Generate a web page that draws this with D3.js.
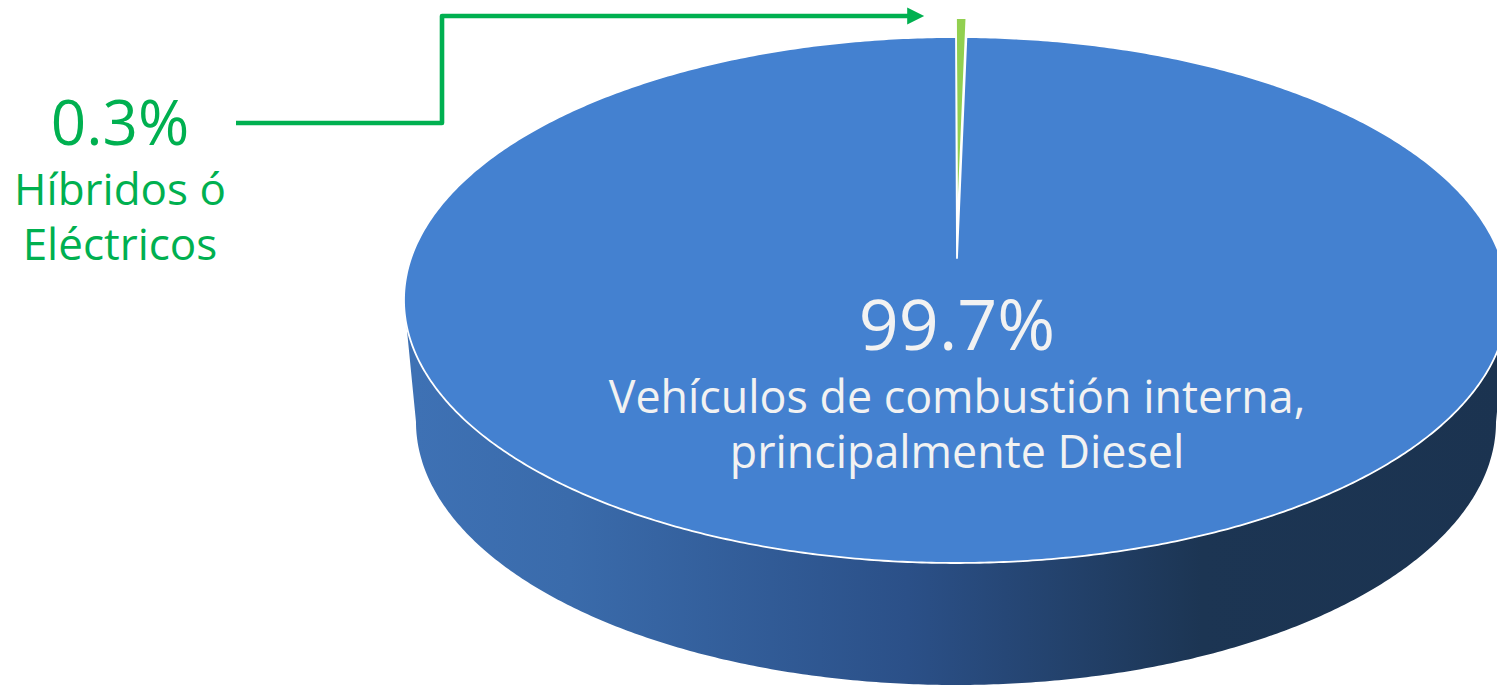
<!DOCTYPE html>
<html>
<head>
<meta charset="utf-8">
<script src="https://cdn.jsdelivr.net/npm/d3@7"></script>
<style>
  html, body { margin: 0; padding: 0; background: #ffffff; overflow: hidden; }
  svg { display: block; }
</style>
</head>
<body>
<svg id="chart" width="1497" height="687"></svg>
<script>
// ---- data ----
const categories = ["Híbridos ó Eléctricos", "Vehículos de combustión interna, principalmente Diesel"];
const labelLines = [["Híbridos ó", "Eléctricos"], ["Vehículos de combustión interna,", "principalmente Diesel"]];
const values = [0.3, 99.7];
const colors = ["#92d050", "#4481d0"];

// ---- layout ----
const W = 1497, H = 687;
const svg = d3.select("#chart");
const cx = 956, cy = 300, rx = 552, ry = 263;     // top ellipse
const apex = {x: 957, y: 258};                     // perspective centre of the top face
const depth = 122, rxB = 540, ryB = 263;          // bottom ellipse
const explode = [19, 0];

const pie = d3.pie().sort(null).value(d => d).startAngle(0).endAngle(2 * Math.PI);
const arcs = pie(values);
const total = d3.sum(values);
const fmt = d3.format(".1f");

function topPt(a) { return [cx + rx * Math.sin(a), cy - ry * Math.cos(a)]; }
function botPt(a) { return [cx + rxB * Math.sin(a), cy + depth - ryB * Math.cos(a)]; }
function samples(a0, a1) {
  const n = Math.max(2, Math.ceil(Math.abs(a1 - a0) / (Math.PI / 360)));
  return d3.range(n + 1).map(i => a0 + (a1 - a0) * i / n);
}

// gradient for the wall
const defs = svg.append("defs");
const grad = defs.append("linearGradient").attr("id", "wall")
  .attr("gradientUnits", "userSpaceOnUse")
  .attr("x1", cx - rxB).attr("x2", cx + rx).attr("y1", 0).attr("y2", 0);
[[0, "#3e71b4"], [0.14, "#3a6bab"], [0.45, "#2b5088"], [0.72, "#1c3553"], [1, "#1b3350"]]
  .forEach(([o, c]) => grad.append("stop").attr("offset", o).attr("stop-color", c));

const line = d3.line();

// walls (front half only)
const front0 = Math.PI / 2, front1 = 3 * Math.PI / 2;
arcs.forEach((d, i) => {
  const a0 = Math.max(d.startAngle, front0), a1 = Math.min(d.endAngle, front1);
  if (a1 <= a0) return;
  const dy = -explode[i];
  const pts = samples(a0, a1).map(a => { const p = topPt(a); return [p[0], p[1] + dy]; })
    .concat(samples(a1, a0).map(a => { const p = botPt(a); return [p[0], p[1] + dy]; }));
  svg.append("path").attr("d", line(pts) + "Z").attr("fill", "url(#wall)");
});

// top faces
arcs.forEach((d, i) => {
  const dy = -explode[i];
  const pts = [[apex.x, apex.y + dy]].concat(
    samples(d.startAngle, d.endAngle).map(a => { const p = topPt(a); return [p[0], p[1] + dy]; }));
  svg.append("path").attr("d", line(pts) + "Z")
    .attr("fill", colors[i]).attr("stroke", "#ffffff").attr("stroke-width", 1.8)
    .attr("stroke-linejoin", "round");
});

// big label
const font = "'Open Sans', 'Noto Sans', sans-serif";
const big = svg.append("text").attr("text-anchor", "middle").attr("fill", "#f2f2f2")
  .attr("font-family", font);
big.append("tspan").attr("x", 957).attr("y", 350).attr("font-size", 70)
  .text(fmt(values[1] / total * 100) + "%");
big.append("tspan").attr("x", 957).attr("y", 413).attr("font-size", 44.8).text(labelLines[1][0]);
big.append("tspan").attr("x", 957).attr("y", 468).attr("font-size", 44.8).text(labelLines[1][1]);

// small slice label + connector
const green = "#00b050";
const small = svg.append("text").attr("text-anchor", "middle").attr("fill", green)
  .attr("font-family", font);
small.append("tspan").attr("x", 120).attr("y", 145).attr("font-size", 62)
  .text(fmt(values[0] / total * 100) + "%");
small.append("tspan").attr("x", 120).attr("y", 205).attr("font-size", 44).text(labelLines[0][0]);
small.append("tspan").attr("x", 120).attr("y", 260).attr("font-size", 44).text(labelLines[0][1]);

const sliceTop = topPt((arcs[0].startAngle + arcs[0].endAngle) / 2);
const tipX = sliceTop[0] - 37, lineY = sliceTop[1] - explode[0] - 2;
svg.append("path")
  .attr("d", `M236,123 H442 V${lineY} H${tipX - 14}`)
  .attr("fill", "none").attr("stroke", green).attr("stroke-width", 4.6)
  .attr("stroke-linejoin", "round");
svg.append("path")
  .attr("d", `M${tipX - 17},${lineY - 8.5} L${tipX},${lineY} L${tipX - 17},${lineY + 8.5} Z`)
  .attr("fill", green);
</script>
</body>
</html>
